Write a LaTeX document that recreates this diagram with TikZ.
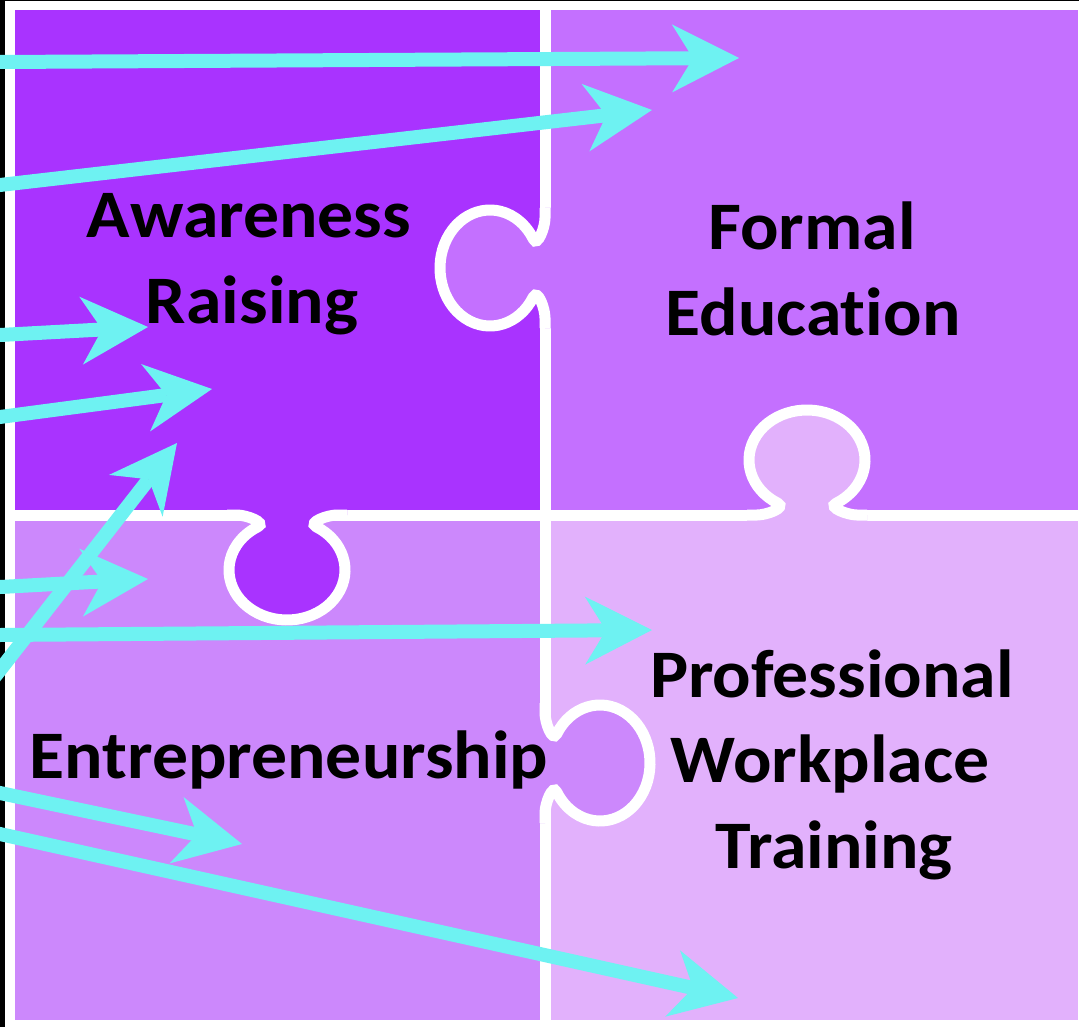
\documentclass[tikz,border=0pt]{standalone}
\usepackage{fontspec}
\setmainfont{Carlito}[Ligatures=NoCommon,FakeStretch=1.055]
\usetikzlibrary{arrows.meta}
\definecolor{tlcol}{RGB}{169,51,255}
\definecolor{trcol}{RGB}{196,112,255}
\definecolor{blcol}{RGB}{204,136,252}
\definecolor{brcol}{RGB}{226,177,252}
\definecolor{cy}{RGB}{110,242,242}
\tikzset{
  tabpath/.style={insert path={(-60,0) -- (-50,0) to[out=0,in=-30] (-29,11.7)
     arc[start angle=-120,end angle=-420,x radius=58,y radius=50]
     to[out=-153,in=180] (50,0) -- (60,0)}},
  cutline/.style={draw=white,line width=11pt},
  arrowline/.style={draw=cy,line width=14pt,shorten <=-14pt,
     -{Stealth[length=67pt,width=68pt,inset=21pt,line width=0pt]}},
  lbl/.style={anchor=base,inner sep=0pt,font=\bfseries\fontsize{68}{80}\selectfont}
}
\begin{document}
\begin{tikzpicture}[x=1pt,y=1pt]
\useasboundingbox (0,0) rectangle (1079,-1027);
\fill[black] (0,0) rectangle (1079,-1027);
\fill[white] (5,-1.5) rectangle (1079,-1027);
% pieces
\fill[tlcol] (15,-10) rectangle (545,-515);
\fill[trcol] (545,-10) rectangle (1078,-515);
\fill[blcol] (15,-515) rectangle (545,-1020);
\fill[brcol] (545,-515) rectangle (1078,-1020);
% straight cuts
\path[cutline] (545,-5) -- (545,-1025);
\path[cutline] (10,-515) -- (1079,-515);
% tabs
\begin{scope}[shift={(545,-268)},rotate=90]
  \fill[trcol] [tabpath] -- (60,-8) -- (-60,-8) -- cycle;
  \path[cutline] [tabpath];
\end{scope}
\begin{scope}[shift={(287,-515)},rotate=180]
  \fill[tlcol] [tabpath] -- (60,-8) -- (-60,-8) -- cycle;
  \path[cutline] [tabpath];
\end{scope}
\begin{scope}[shift={(807,-515)}]
  \fill[brcol] [tabpath] -- (60,-8) -- (-60,-8) -- cycle;
  \path[cutline] [tabpath];
\end{scope}
\begin{scope}[shift={(545,-763)},rotate=-90]
  \fill[blcol] [tabpath] -- (60,-8) -- (-60,-8) -- cycle;
  \path[cutline] [tabpath];
\end{scope}
% labels
\node[lbl] (aw1) at (249,-238) {Awareness};
\node[lbl] (aw2) at (252,-323) {Raising};
\node[lbl] (fe1) at (812,-250) {Formal};
\node[lbl] (fe2) at (813,-335) {Education};
\node[lbl] (en1) at (289,-778) {Entrepreneurship};
\node[lbl] (pw1) at (832,-697) {Professional};
\node[lbl] (pw2) at (830,-782) {Workplace};
\node[lbl] (pw3) at (834,-868) {Training};
% arrows
\coordinate (s1) at (0,-62);   \coordinate (t1) at (739,-58);
\coordinate (s2) at (0,-185);  \coordinate (t2) at (652,-110);
\coordinate (s3) at (0,-335);  \coordinate (t3) at (148,-327);
\coordinate (s4) at (0,-417);  \coordinate (t4) at (212,-389);
\coordinate (s5) at (0,-670);  \coordinate (t5) at (177,-443);
\coordinate (s6) at (0,-587);  \coordinate (t6) at (148,-579);
\coordinate (s7) at (0,-635);  \coordinate (t7) at (652,-630);
\coordinate (s8) at (0,-793);  \coordinate (t8) at (242,-844);
\coordinate (s9) at (0,-834);  \coordinate (t9) at (738,-998);
\foreach \i in {1,...,9} {\draw[arrowline] (s\i) -- (t\i);}
\end{tikzpicture}
\end{document}
